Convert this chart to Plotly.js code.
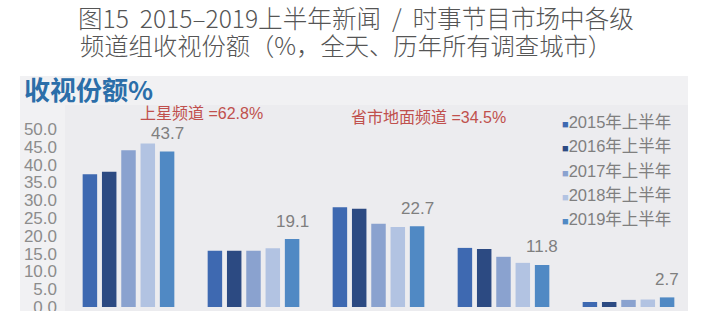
<!DOCTYPE html>
<html>
<head>
<meta charset="utf-8">
<script src="https://cdn.plot.ly/plotly-3.0.1.min.js"></script>
<style>html,body{margin:0;padding:0;background:#fff;}#chart{width:709px;height:311px;}</style>
</head>
<body>
<div id="chart"></div>
<script>
// ---- data ----
const categories = ['中央级频道', '省级上星频道', '省级地面频道', '市级频道', '其他频道'];
const seriesNames = ['2015年上半年', '2016年上半年', '2017年上半年', '2018年上半年', '2019年上半年'];
const s2015 = [37.3, 15.8, 28.0, 16.6, 1.4];
const s2016 = [38.0, 15.8, 27.6, 16.3, 1.4];
const s2017 = [44.0, 15.8, 23.4, 14.1, 2.0];
const s2018 = [45.9, 16.5, 22.5, 12.4, 2.1];
const s2019 = [43.7, 19.1, 22.7, 11.8, 2.7];
const yTicks = [0, 5, 10, 15, 20, 25, 30, 35, 40, 45, 50];
const titleLine1 = '图15  2015–2019上半年新闻  /  时事节目市场中各级';
const titleLine2 = '频道组收视份额（%，全天、历年所有调查城市）';
const yLabel = '收视份额%';

// ---- styles ----
const colors = ['#3e69b1', '#2c4a82', '#8aa2cf', '#b2c3e2', '#5089c4'];
const allSeries = [s2015, s2016, s2017, s2018, s2019];
const latin = 'Liberation Sans, Arial, Noto Sans CJK SC, sans-serif';
const cjk = 'Noto Sans CJK SC, Liberation Sans, sans-serif';

const traces = [];
allSeries.forEach((vals, i) => {
  traces.push({
    type: 'bar', x: categories, y: vals, name: seriesNames[i],
    marker: {color: colors[i]}, showlegend: false, hoverinfo: 'none', cliponaxis: false
  });
});
// legend entries (colour square drawn as text)
allSeries.forEach((vals, i) => {
  traces.push({
    type: 'scatter', mode: 'markers', x: [null], y: [null],
    name: '<span style="color:' + colors[i] + ';font-size:11px">■</span>' + seriesNames[i],
    marker: {color: 'rgba(0,0,0,0)', size: 1, line: {width: 0}}, showlegend: true, hoverinfo: 'none'
  });
});

const W = 709, H = 311;
const mL = 66, mR = 18, mT = 129, mB = 4;
const pw = W - mL - mR, ph = H - mT - mB;
const px = x => (x - mL) / pw;          // pixel -> paper x
const py = y => (H - mB - y) / ph;      // pixel -> paper y

const annotations = [];
// value labels on the 2019 bars
s2019.forEach((v, i) => {
  annotations.push({
    x: categories[i], y: v, xref: 'x', yref: 'y', text: v.toFixed(1),
    showarrow: false, xshift: 38.6, yshift: 18, yanchor: 'middle',
    font: {family: latin, size: 17, color: '#7f7f7f'}
  });
});
const sat = s2019[0] + s2019[1];
const ground = s2019[2] + s2019[3];
annotations.push({
  xref: 'paper', yref: 'paper', x: px(201), y: py(114), xanchor: 'center', yanchor: 'middle',
  text: '上星频道 =' + sat.toFixed(1) + '%', showarrow: false,
  font: {family: latin, size: 16, color: '#c0504d'}
});
annotations.push({
  xref: 'paper', yref: 'paper', x: px(428), y: py(117), xanchor: 'center', yanchor: 'middle',
  text: '省市地面频道 =' + ground.toFixed(1) + '%', showarrow: false,
  font: {family: latin, size: 16, color: '#c0504d'}
});
annotations.push({
  xref: 'paper', yref: 'paper', x: px(22), y: py(89), xanchor: 'left', yanchor: 'middle',
  text: '<b>' + yLabel + '</b>', showarrow: false,
  font: {family: cjk, size: 26, color: '#2b6ea9'}
});
annotations.push({
  xref: 'paper', yref: 'paper', x: px(78), y: py(44), xanchor: 'left', yanchor: 'middle',
  text: titleLine2, showarrow: false,
  font: {family: cjk, size: 24.3, color: '#555555', weight: 300}
});

const layout = {
  width: W, height: H,
  margin: {l: mL, r: mR, t: mT, b: mB, pad: 0},
  paper_bgcolor: '#ffffff',
  plot_bgcolor: 'rgba(0,0,0,0)',
  title: {
    text: titleLine1, xref: 'container', yref: 'container',
    x: 78 / W, xanchor: 'left', y: 1 - 19 / H, yanchor: 'middle',
    font: {family: cjk, size: 24.6, color: '#555555', weight: 300}
  },
  barmode: 'group', bargap: 0.228, bargroupgap: 0.25,
  xaxis: {showticklabels: false, showgrid: false, zeroline: false, showline: false, ticks: '', fixedrange: true},
  yaxis: {
    range: [0, 50], tickvals: yTicks, tickformat: '.1f', showgrid: false, zeroline: false,
    showline: false, ticks: '', ticklabelstandoff: 8, ticklabeloverflow: 'allow',
    tickfont: {family: latin, size: 17, color: '#8c8c8c'}, fixedrange: true
  },
  legend: {
    x: px(522), y: py(104), xanchor: 'left', yanchor: 'top',
    bgcolor: 'rgba(0,0,0,0)', borderwidth: 0, tracegroupgap: 0,
    font: {family: latin, size: 16.5, color: '#7f7f7f'}
  },
  shapes: [
    {type: 'rect', xref: 'paper', yref: 'paper', x0: px(20), x1: px(688), y0: py(315), y1: py(76),
     fillcolor: '#f1f1f3', line: {width: 0}, layer: 'below'},
    {type: 'rect', xref: 'paper', yref: 'paper', x0: px(65), x1: px(688), y0: py(315), y1: py(105),
     fillcolor: '#ececef', line: {width: 0}, layer: 'below'}
  ],
  annotations: annotations
};

Plotly.newPlot('chart', traces, layout, {displayModeBar: false, staticPlot: true});
</script>
</body>
</html>
